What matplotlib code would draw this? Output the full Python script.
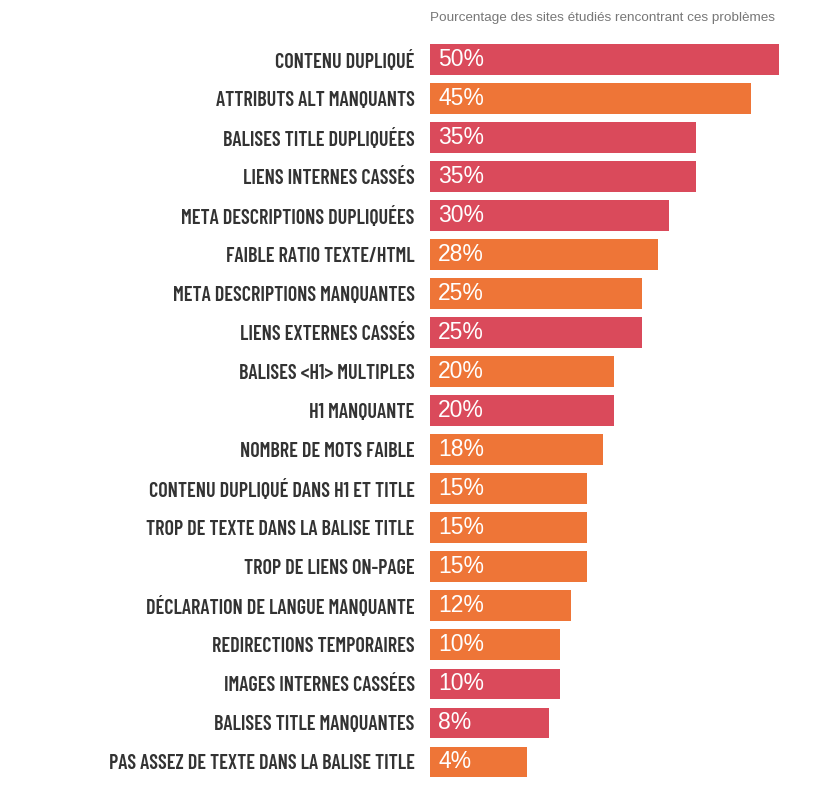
import matplotlib.pyplot as plt
from matplotlib import font_manager

# Data
categories = [
    "CONTENU DUPLIQUÉ",
    "ATTRIBUTS ALT MANQUANTS",
    "BALISES TITLE DUPLIQUÉES",
    "LIENS INTERNES CASSÉS",
    "META DESCRIPTIONS DUPLIQUÉES",
    "FAIBLE RATIO TEXTE/HTML",
    "META DESCRIPTIONS MANQUANTES",
    "LIENS EXTERNES CASSÉS",
    "BALISES <H1> MULTIPLES",
    "H1 MANQUANTE",
    "NOMBRE DE MOTS FAIBLE",
    "CONTENU DUPLIQUÉ DANS H1 ET TITLE",
    "TROP DE TEXTE DANS LA BALISE TITLE",
    "TROP DE LIENS ON-PAGE",
    "DÉCLARATION DE LANGUE MANQUANTE",
    "REDIRECTIONS TEMPORAIRES",
    "IMAGES INTERNES CASSÉES",
    "BALISES TITLE MANQUANTES",
    "PAS ASSEZ DE TEXTE DANS LA BALISE TITLE",
]
percent = [50, 45, 35, 35, 30, 28, 25, 25, 20, 20, 18, 15, 15, 15, 12, 10, 10, 8, 4]
# "erreur" = red bars, "avertissement" = orange bars
severity = ["erreur", "avertissement", "erreur", "erreur", "erreur",
            "avertissement", "avertissement", "erreur", "avertissement", "erreur",
            "avertissement", "avertissement", "avertissement", "avertissement",
            "avertissement", "avertissement", "erreur", "erreur", "avertissement"]

colors = {"erreur": "#DA4A5B", "avertissement": "#EE7537"}

# the bars in the original start from a visual offset, not from zero
base = 13.7

# a condensed bold face for the category labels, whichever is available
installed = {f.name for f in font_manager.fontManager.ttflist}
label_font = "DejaVu Sans"
for name in ["Barlow Condensed", "Roboto Condensed", "Oswald", "Liberation Sans Narrow"]:
    if name in installed:
        label_font = name
        break

fig = plt.figure(figsize=(8.19, 7.90), dpi=100)
ax = fig.add_axes([430 / 819, 1 - 781.5 / 790, 1 - 430 / 819, 741.5 / 790])

ypos = list(range(len(categories)))
bar_colors = [colors[s] for s in severity]
ax.barh(ypos, [p + base for p in percent], left=-base, height=0.79, color=bar_colors)

for y, p in zip(ypos, percent):
    ax.annotate(f"{p}%", xy=(-base, y), xytext=(6, 0), textcoords="offset points",
                ha="left", va="center", color="white", fontsize=16.5,
                family="Liberation Sans")

ax.set_xlim(-base, 57.4)
ax.set_ylim(18.5, -0.5)
ax.set_yticks(ypos)
ax.set_yticklabels(categories, family=label_font, fontweight="semibold",
                   fontsize=14.5, color="#333333")
ax.tick_params(axis="y", length=0, pad=11)
ax.set_xticks([])
for s in ax.spines.values():
    s.set_visible(False)

fig.text(430 / 819, 1 - 18 / 790, "Pourcentage des sites étudiés rencontrant ces problèmes",
         ha="left", va="center", fontsize=9.7, color="#777777", family="Liberation Sans")

fig.savefig("out.png", dpi=100)
